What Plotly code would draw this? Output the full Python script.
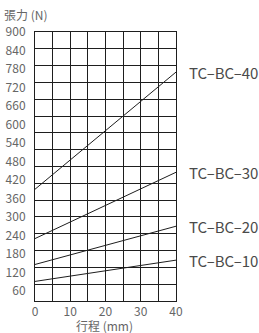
import plotly.graph_objects as go

# ---- data ----
stroke = [0, 40]
series_names = ["TC–BC–40", "TC–BC–30", "TC–BC–20", "TC–BC–10"]
tc_bc_40 = [390, 770]
tc_bc_30 = [230, 445]
tc_bc_20 = [146, 270]
tc_bc_10 = [91, 160]
y_ticks = [60, 120, 180, 240, 300, 360, 420, 480, 540, 600, 660, 720, 780, 840, 900]
x_tickvals = [0, 5, 10, 15, 20, 25, 30, 35, 40]
x_ticktext = ["0", "", "10", "", "20", "", "30", "", "40"]
grid_rows = 16

FONT = "Noto Sans CJK TC, Noto Sans, sans-serif"
INK = "#1e1e1e"
TXT = "#666666"

fig = go.Figure()
all_series = [tc_bc_40, tc_bc_30, tc_bc_20, tc_bc_10]
for name, vals in zip(series_names, all_series):
    fig.add_trace(go.Scatter(x=stroke, y=vals, mode="lines", name=name,
                             line=dict(color=INK, width=1), showlegend=False,
                             hoverinfo="skip"))
    fig.add_annotation(x=1.08, xref="paper", y=vals[-1], yref="y",
                       text=name, showarrow=False, xanchor="left", yanchor="middle",
                       font=dict(family=FONT, size=15, color="#4a4a4a"))

# empty trace to register the overlay grid axis
fig.add_trace(go.Scatter(x=[], y=[], yaxis="y2", showlegend=False, hoverinfo="skip"))

fig.update_layout(
    width=259, height=333,
    margin=dict(l=35, r=83, t=32, b=32, autoexpand=False),
    paper_bgcolor="white", plot_bgcolor="white",
    font=dict(family=FONT, size=12, color=TXT),
    xaxis=dict(range=[0, 40], tickvals=x_tickvals, ticktext=x_ticktext,
               showgrid=True, gridcolor=INK, gridwidth=1, zeroline=False,
               showline=True, linecolor=INK, linewidth=1, mirror=True,
               ticks="", ticklabelstandoff=0, automargin=False,
               tickfont=dict(family=FONT, size=12, color=TXT)),
    yaxis=dict(range=[27.5, 900], tickvals=y_ticks, showgrid=False, zeroline=False,
               showline=True, linecolor=INK, linewidth=1, mirror=True,
               ticks="", ticklabelstandoff=6, automargin=False,
               tickfont=dict(family=FONT, size=12, color=TXT)),
    yaxis2=dict(range=[0, grid_rows], dtick=1, overlaying="y", side="left",
                showgrid=True, gridcolor=INK, gridwidth=1, zeroline=False,
                showticklabels=False, ticks="", showline=False, automargin=False),
)

fig.add_annotation(x=-0.227, xref="paper", y=1.066, yref="paper",
                   text="張力 (N)", showarrow=False, xanchor="left", yanchor="middle",
                   borderpad=0,
                   font=dict(family=FONT, size=12, color=TXT))
fig.add_annotation(x=0.496, xref="paper", y=-0.091, yref="paper",
                   text="行程 (mm)", showarrow=False, xanchor="center", yanchor="middle",
                   borderpad=0,
                   font=dict(family=FONT, size=12, color=TXT))

fig.write_html("out.html", config={"displayModeBar": False},
               post_script="document.body.style.margin='0';document.body.style.padding='0';")
